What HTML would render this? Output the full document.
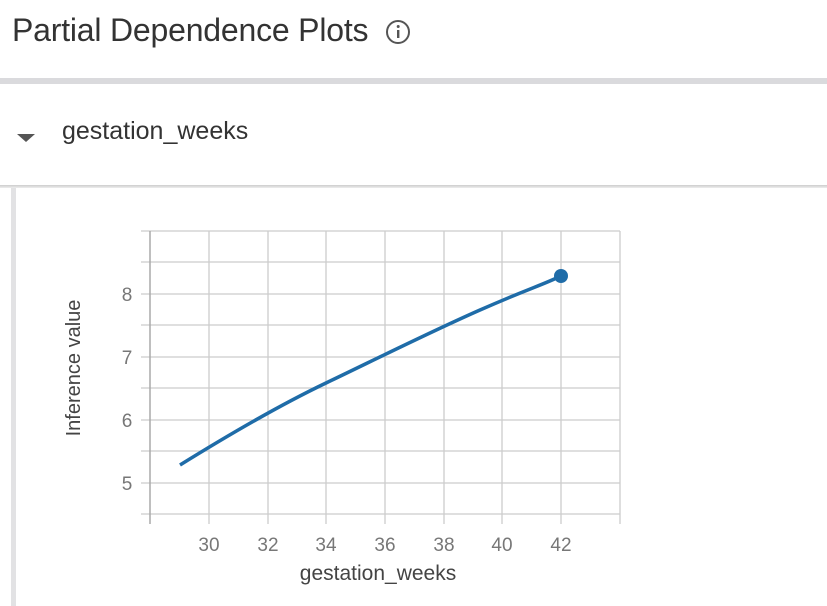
<!DOCTYPE html>
<html><head><style>
body{margin:0;width:827px;height:606px;background:#fff;overflow:hidden;position:relative;font-family:"Liberation Sans",sans-serif;}
.t{position:absolute;left:12px;top:12px;font-size:32px;color:#333;letter-spacing:-0.2px}
.bar{position:absolute;left:0;top:78px;width:827px;height:6px;background:#dadadd}
.sec{position:absolute;left:62px;top:117px;font-size:25px;color:#333}
.sh{position:absolute;left:0;top:185px;width:827px;height:3px;background:linear-gradient(#ccc,#eee)}
.strip{position:absolute;left:11px;top:188px;width:5px;height:418px;background:#e2e2e4}
</style></head><body>
<div class="t">Partial Dependence Plots</div>
<svg style="position:absolute;left:384px;top:18px" width="30" height="30"><circle cx="14" cy="14" r="11" fill="none" stroke="#555" stroke-width="2"/><rect x="13" y="12" width="2.4" height="8" fill="#555"/><circle cx="14.2" cy="8.5" r="1.5" fill="#555"/></svg>
<div class="bar"></div>
<svg style="position:absolute;left:17px;top:134px" width="20" height="10"><polygon points="0,0 18,0 9,8" fill="#555"/></svg>
<div class="sec">gestation_weeks</div>
<div class="sh"></div>
<div class="strip"></div>
<svg style="position:absolute;left:0;top:0" width="827" height="606">
<g stroke="#ccc" stroke-width="1.3">
<line x1="209" y1="231" x2="209" y2="524"/><line x1="268" y1="231" x2="268" y2="524"/><line x1="326" y1="231" x2="326" y2="524"/><line x1="385" y1="231" x2="385" y2="524"/><line x1="444" y1="231" x2="444" y2="524"/><line x1="502" y1="231" x2="502" y2="524"/><line x1="561" y1="231" x2="561" y2="524"/><line x1="620" y1="231" x2="620" y2="524"/>
<line x1="141" y1="231" x2="620" y2="231"/><line x1="141" y1="262" x2="620" y2="262"/><line x1="141" y1="294" x2="620" y2="294"/><line x1="141" y1="325" x2="620" y2="325"/><line x1="141" y1="357" x2="620" y2="357"/><line x1="141" y1="388" x2="620" y2="388"/><line x1="141" y1="420" x2="620" y2="420"/><line x1="141" y1="451" x2="620" y2="451"/><line x1="141" y1="483" x2="620" y2="483"/><line x1="141" y1="514" x2="620" y2="514"/>
</g>
<line x1="150" y1="231" x2="150" y2="524" stroke="#aaa" stroke-width="1.5"/>
<path fill="none" stroke="#1f6ca8" stroke-width="3.5" stroke-linecap="butt" d="M180,465 C230,434 280,405 326,383 S430,332 480,310 S540,286 561,276"/>
<circle cx="561" cy="276" r="7" fill="#1f6ca8"/>
<g font-size="19" fill="#777" text-anchor="middle" font-family="Liberation Sans,sans-serif">
<text x="127" y="301">8</text><text x="127" y="364">7</text><text x="127" y="427">6</text><text x="127" y="490">5</text>
<text x="209" y="551">30</text><text x="268" y="551">32</text><text x="326" y="551">34</text><text x="385" y="551">36</text><text x="444" y="551">38</text><text x="502" y="551">40</text><text x="561" y="551">42</text>
</g>
<text x="378" y="580" font-size="21" fill="#444" text-anchor="middle">gestation_weeks</text>
<text transform="translate(80,368) rotate(-90)" font-size="20" fill="#444" text-anchor="middle">Inference value</text>
</svg>
</body></html>
